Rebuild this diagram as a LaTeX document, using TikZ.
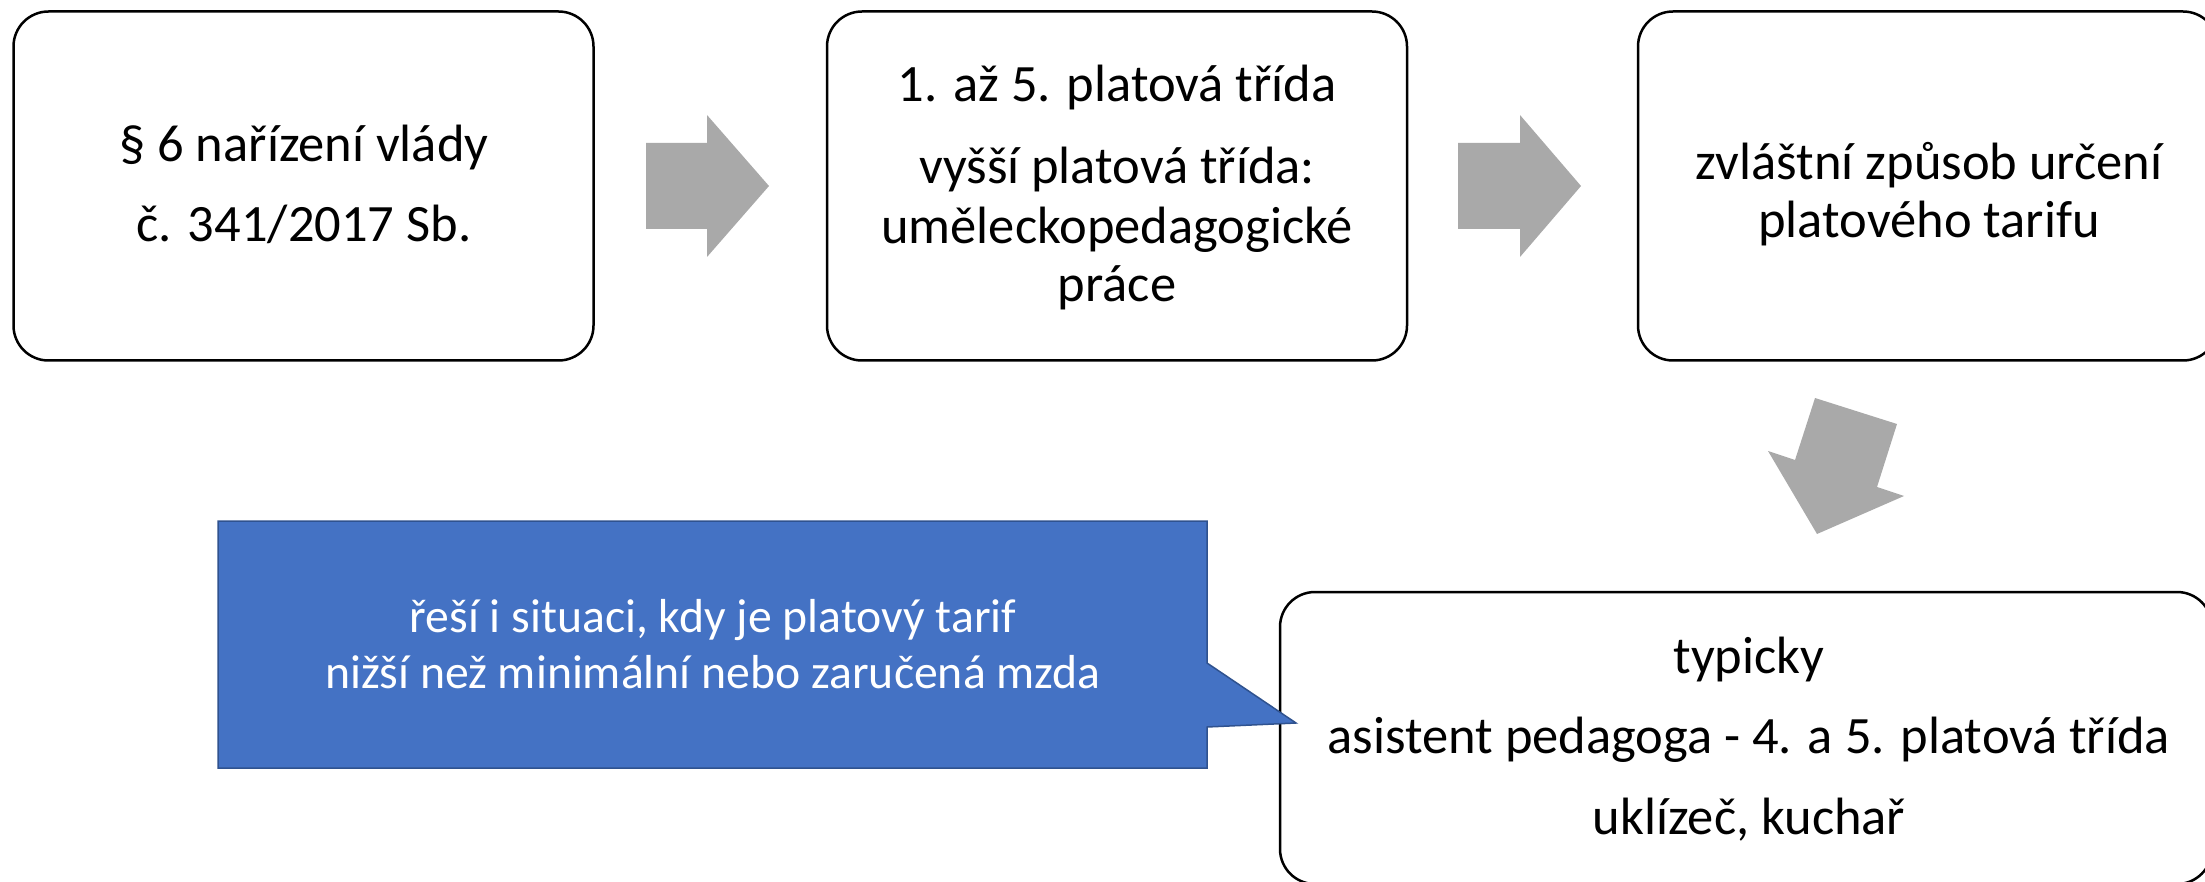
\documentclass[tikz,border=0pt]{standalone}
\usepackage{fontspec}
\setmainfont{Carlito}
\definecolor{arrowgray}{HTML}{A9A9A9}
\definecolor{calloutblue}{HTML}{4472C4}
\definecolor{calloutedge}{HTML}{2F528F}
\tikzset{
  stepbox/.style={draw=black, line width=2.5pt, rounded corners=35pt, fill=white,
    minimum width=580pt, minimum height=349pt, inner sep=0pt},
  txtline/.style={anchor=base, inner sep=0pt, font=\fontsize{52.5}{57}\selectfont},
  calline/.style={anchor=base, inner sep=0pt, text=white, font=\fontsize{47.7}{56}\selectfont},
  blockarrow/.style={fill=arrowgray, draw=none},
  calloutshape/.style={fill=calloutblue, draw=calloutedge, line width=1.5pt},
}
\begin{document}
\begin{tikzpicture}[x=1pt, y=-1pt]
\useasboundingbox (0,0) rectangle (2205,882);

% boxes
\node[stepbox] (b1) at (303.5,186) {};
\node[stepbox] (b2) at (1117,186) {};
\node[stepbox] (b3) at (1928,186) {};
\node[stepbox, minimum width=932pt, minimum height=292pt] (b4) at (1746,738) {};

% texts
\node[txtline] (b1a) at (304,162) {§ 6 nařízení vlády};
\node[txtline] (b1b) at (304,242) {č. 341/2017 Sb.};

\node[txtline] (b2a) at (1117,102) {1. až 5. platová třída};
\node[txtline] (b2b) at (1117,184) {vyšší platová třída:};
\node[txtline] (b2c) at (1117,244) {uměleckopedagogické};
\node[txtline] (b2d) at (1117,302) {práce};

\node[txtline] (b3a) at (1929,180) {zvláštní způsob určení};
\node[txtline] (b3b) at (1929,238) {platového tarifu};

\node[txtline] (b4a) at (1749,673) {typicky};
\node[txtline] (b4b) at (1749,753) {asistent pedagoga - 4. a 5. platová třída};
\node[txtline] (b4c) at (1749,834) {uklízeč, kuchař};

% block arrows
\fill[blockarrow] (646,143) -- (707,143) -- (707,115) -- (769,186) -- (707,257) -- (707,229) -- (646,229) -- cycle;
\fill[blockarrow] (1458,143) -- (1520,143) -- (1520,115) -- (1581,186) -- (1520,257) -- (1520,229) -- (1458,229) -- cycle;
\fill[blockarrow] (1815,398) -- (1897,424) -- (1877,487) -- (1904,496) -- (1817,534) -- (1768,451) -- (1795,460) -- cycle;

% callout
\coordinate (ctip) at (1296,723);
\draw[calloutshape] (218,521) -- (1207,521) -- (1207,663) -- (ctip) -- (1207,727) -- (1207,768) -- (218,768) -- cycle;
\node[calline] (ca) at (713,632) {řeší i situaci, kdy je platový tarif};
\node[calline] (cb) at (713,688) {nižší než minimální nebo zaručená mzda};
\end{tikzpicture}
\end{document}
